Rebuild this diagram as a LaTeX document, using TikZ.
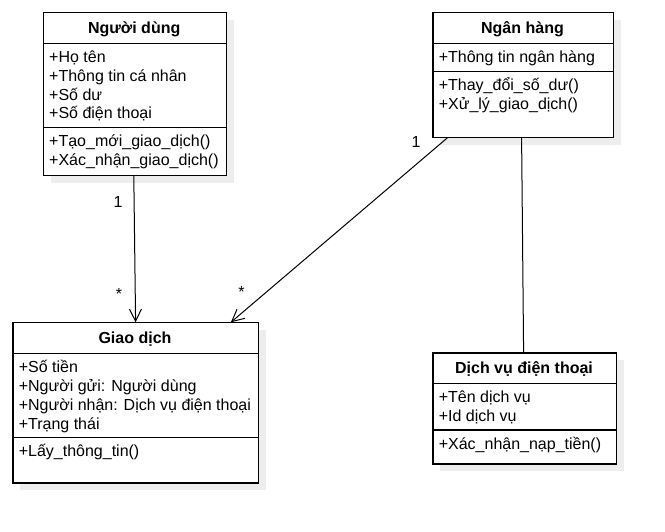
\documentclass[tikz,border=0pt]{standalone}
\usepackage{fontspec}
\setmainfont{Liberation Sans}
\usetikzlibrary{arrows.meta,calc}
\begin{document}
\begin{tikzpicture}[x=1pt,y=-1pt,
  classbox/.style={draw=black, fill=white, line width=1.2pt, inner sep=0pt, anchor=north west},
  shade/.style={fill=black!7, draw=none},
  sepline/.style={draw=black, line width=1.2pt},
  titletext/.style={font=\bfseries\fontsize{16}{19}\selectfont, anchor=base, inner sep=0pt},
  itemtext/.style={font=\fontsize{16}{19}\selectfont, anchor=base west, inner sep=0pt},
  multtext/.style={font=\fontsize{16}{19}\selectfont, inner sep=0pt},
  assoc/.style={draw=black, line width=1pt},
  openarrow/.style={-{Straight Barb[length=12pt,width=12pt,line width=1pt]}}
]
\useasboundingbox (0,0) rectangle (665,532);

% ---------- Người dùng ----------
\fill[shade] (50.7,20.3) rectangle (233.7,183);
\node[classbox, minimum width=183pt, minimum height=162.7pt] (nd) at (42.7,12.3) {};
\draw[sepline] (42.7,43.3) -- (225.7,43.3);
\draw[sepline] (42.7,127.7) -- (225.7,127.7);
\node[titletext] (ndt) at (134.2,33.6) {Người dùng};
\foreach \t [count=\i] in {+Họ tên,+Thông tin cá nhân,+Số dư,+Số điện thoại}
  \node[itemtext] (nda\i) at (49,62.3+\i*18.9-18.9) {\t};
\foreach \t [count=\i] in {+Tạo\_mới\_giao\_dịch(),+Xác\_nhận\_giao\_dịch()}
  \node[itemtext] (ndm\i) at (49,146.7+\i*18.9-18.9) {\t};

% ---------- Ngân hàng ----------
\fill[shade] (440.3,20.3) rectangle (620.7,144.7);
\node[classbox, minimum width=180.4pt, minimum height=124.4pt] (nh) at (432.3,12.3) {};
\draw[sepline] (432.3,43.3) -- (612.7,43.3);
\draw[sepline] (432.3,71.7) -- (612.7,71.7);
\node[titletext] (nht) at (522.5,33.6) {Ngân hàng};
\node[itemtext] (nha1) at (438.6,62.3) {+Thông tin ngân hàng};
\foreach \t [count=\i] in {+Thay\_đổi\_số\_dư(),+Xử\_lý\_giao\_dịch()}
  \node[itemtext] (nhm\i) at (438.6,90.7+\i*18.9-18.9) {\t};

% ---------- Giao dịch ----------
\fill[shade] (20.3,330.3) rectangle (265.7,490.3);
\node[classbox, minimum width=245.4pt, minimum height=160pt] (gd) at (12.3,322.3) {};
\draw[sepline] (12.3,353.3) -- (257.7,353.3);
\draw[sepline] (12.3,437.7) -- (257.7,437.7);
\node[titletext] (gdt) at (135,343.6) {Giao dịch};
\foreach \t [count=\i] in {+Số tiền,+Người gửi: Người dùng,+Người nhận: Dịch vụ điện thoại,+Trạng thái}
  \node[itemtext] (gda\i) at (18.6,372.3+\i*18.9-18.9) {\t};
\node[itemtext] (gdm1) at (18.6,456.7) {+Lấy\_thông\_tin()};

% ---------- Dịch vụ điện thoại ----------
\fill[shade] (440.3,360.3) rectangle (623.7,471.3);
\node[classbox, minimum width=183.4pt, minimum height=111pt] (dv) at (432.3,352.3) {};
\draw[sepline] (432.3,383.3) -- (615.7,383.3);
\draw[sepline] (432.3,430) -- (615.7,430);
\node[titletext] (dvt) at (524,373.6) {Dịch vụ điện thoại};
\foreach \t [count=\i] in {+Tên dịch vụ,+Id dịch vụ}
  \node[itemtext] (dva\i) at (438.6,402.3+\i*18.9-18.9) {\t};
\node[itemtext] (dvm1) at (438.6,449) {+Xác\_nhận\_nạp\_tiền()};

% ---------- connectors ----------
\draw[assoc, openarrow] ($(nd.south)+(-1,0)$) -- (gd.north);
\draw[assoc, openarrow] ($(nh.south west)+(15,0)$) -- ($(gd.north east)+(-28,0)$);
\draw[assoc] ($(nh.south)+(-1.5,0)$) -- ($(dv.north)+(-1,0)$);

% ---------- multiplicities ----------
\node[multtext] (m1) at (118,201.5) {1};
\node[multtext, anchor=base] (m2) at (119,299) {*};
\node[multtext] (m3) at (416,142) {1};
\node[multtext, anchor=base] (m4) at (241.5,297.3) {*};
\end{tikzpicture}
\end{document}
